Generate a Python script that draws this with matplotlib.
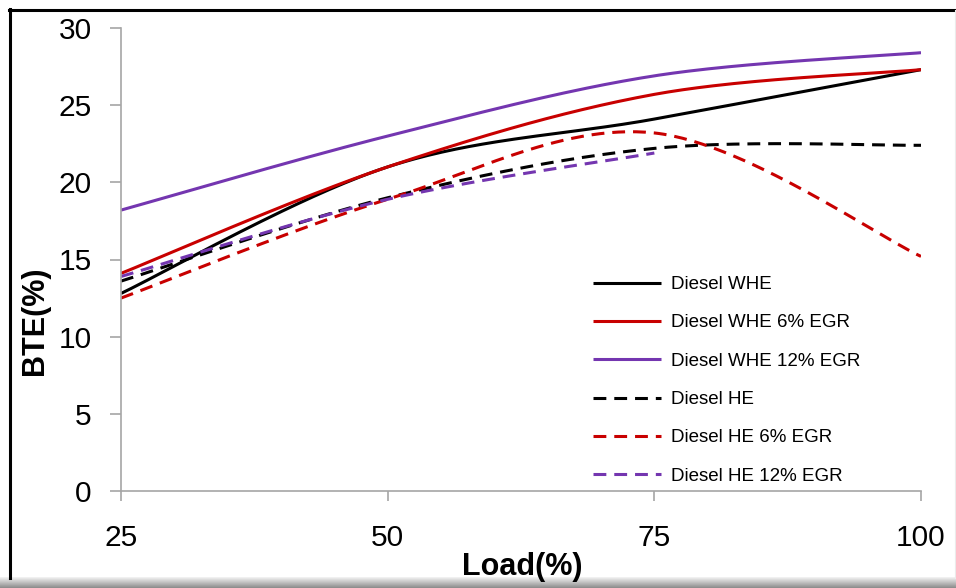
import numpy as np
import matplotlib
matplotlib.use("Agg")
import matplotlib.pyplot as plt
from matplotlib.lines import Line2D

plt.rcParams['font.family'] = ['Liberation Sans', 'DejaVu Sans']

# Engine load (%) and brake thermal efficiency (%)
load = [25, 50, 75, 100]
diesel_whe = [12.8, 21.0, 24.1, 27.3]
diesel_whe_6egr = [14.1, 21.0, 25.7, 27.3]
diesel_whe_12egr = [18.2, 23.0, 26.9, 28.4]
diesel_he = [13.6, 19.0, 22.2, 22.4]
diesel_he_6egr = [12.5, 18.9, 23.2, 15.2]
load_he12 = [25, 50, 75]
diesel_he_12egr = [13.9, 18.9, 21.9]

series = [
    ("Diesel WHE", load, diesel_whe, "#000000", "-"),
    ("Diesel WHE 6% EGR", load, diesel_whe_6egr, "#c80000", "-"),
    ("Diesel WHE 12% EGR", load, diesel_whe_12egr, "#7436b0", "-"),
    ("Diesel HE", load, diesel_he, "#000000", "--"),
    ("Diesel HE 6% EGR", load, diesel_he_6egr, "#c80000", "--"),
    ("Diesel HE 12% EGR", load_he12, diesel_he_12egr, "#7436b0", "--"),
]


def smooth(xs, ys, n=60):
    """Cubic Bezier smoothing through the points (spreadsheet-style)."""
    p = np.column_stack([xs, ys]).astype(float)
    m = len(p)
    out = []
    for i in range(m - 1):
        p0 = p[i - 1] if i > 0 else p[i]
        p1 = p[i]
        p2 = p[i + 1]
        p3 = p[i + 2] if i + 2 < m else p[i + 1]
        c1 = p1 + (p2 - p0) / 6.0
        c2 = p2 - (p3 - p1) / 6.0
        t = np.linspace(0, 1, n)[:, None]
        seg = ((1 - t) ** 3) * p1 + 3 * ((1 - t) ** 2) * t * c1 + 3 * (1 - t) * t ** 2 * c2 + t ** 3 * p2
        out.append(seg if i == 0 else seg[1:])
    s = np.vstack(out)
    return s[:, 0], s[:, 1]


W, H = 956, 588
fig = plt.figure(figsize=(W / 100, H / 100), dpi=100)
ax = fig.add_axes([121 / W, 1 - 491 / H, 800 / W, 463 / H])

for name, xs, ys, color, ls in series:
    sx, sy = smooth(xs, ys)
    kw = dict(color=color, lw=2.2, label=name, solid_capstyle='butt')
    if ls == "--":
        kw.update(linestyle=(0, (4.2, 2.6)), dash_capstyle='butt')
    ax.plot(sx, sy, **kw)

ax.set_xlim(25, 100)
ax.set_ylim(0, 30)
ax.set_xticks(load)
ax.set_xticklabels([str(v) for v in load])
ax.set_yticks(np.arange(0, 31, 5))

for side in ("top", "right"):
    ax.spines[side].set_visible(False)
for side in ("left", "bottom"):
    ax.spines[side].set_color("#a6a6a6")
    ax.spines[side].set_linewidth(1.2)
ax.tick_params(axis='y', direction='out', length=8, width=1.2, color="#a6a6a6",
               labelsize=21.5, pad=13)
ax.tick_params(axis='x', direction='out', length=7, width=1.2, color="#a6a6a6",
               labelsize=21.5, pad=17)

fig.text(35 / W, 1 - 321 / H, "BTE(%)", rotation=90, fontsize=22, fontweight='bold',
         ha='center', va='center')
fig.text(522 / W, 1 - 567 / H, "Load(%)", fontsize=22, fontweight='bold',
         ha='center', va='center')

leg = ax.legend(loc='upper left', bbox_to_anchor=((593 - 121) / 800, (491 - 276) / 463),
                frameon=False, fontsize=13.5, handlelength=3.6, handletextpad=0.55,
                labelspacing=1.13, borderpad=0, borderaxespad=0)

# Outer chart frame with a soft bottom shadow
fig.add_artist(Line2D([9.5 / W, 9.5 / W], [10 / H, 1 - 9 / H], color='black', lw=2.2,
                      transform=fig.transFigure))
fig.add_artist(Line2D([9 / W, 1.0], [1 - 9.5 / H, 1 - 9.5 / H], color='black', lw=2.2,
                      transform=fig.transFigure))
fig.add_artist(Line2D([954.5 / W, 954.5 / W], [10 / H, 1 - 10 / H], color='#ebebeb', lw=0.8,
                      transform=fig.transFigure))
sh = fig.add_axes([0, 0, 1, 11 / H])
grad = np.linspace(0.95, 0.55, 20)[:, None] * np.ones((1, 10))
sh.imshow(grad, cmap='gray', vmin=0, vmax=1, aspect='auto', extent=[0, 1, 0, 1])
sh.axis('off')

fig.savefig("out.png", dpi=100)
